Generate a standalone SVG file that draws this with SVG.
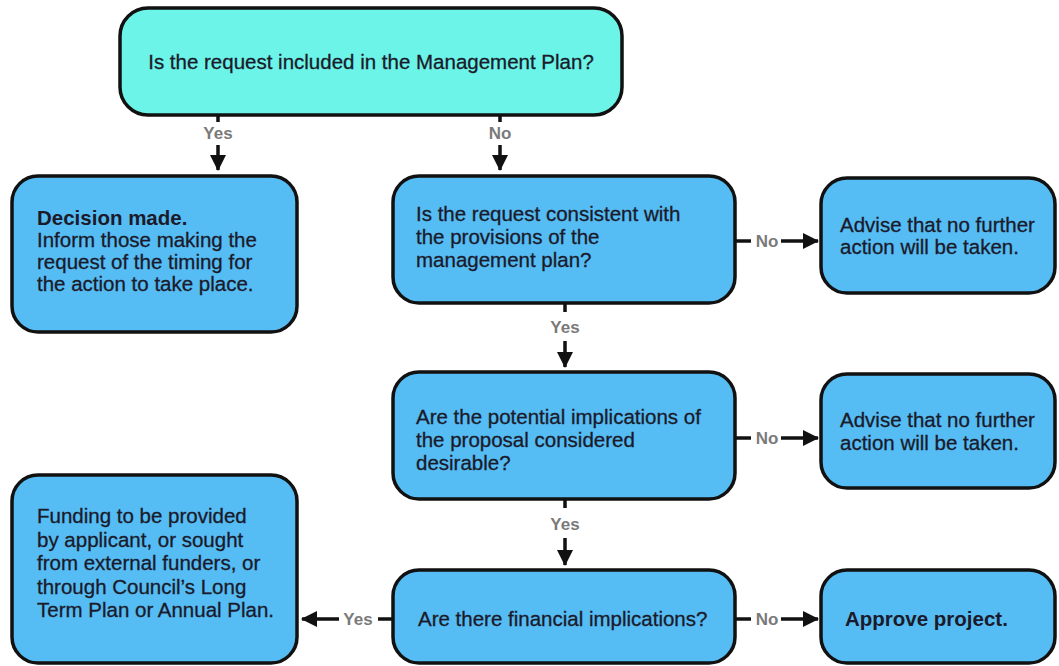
<svg xmlns="http://www.w3.org/2000/svg" width="1059" height="666" viewBox="0 0 1059 666">
<defs>
<marker id="ah" markerWidth="18" markerHeight="16" refX="15" refY="8" orient="auto" markerUnits="userSpaceOnUse">
<path d="M0,0 L16,8 L0,16 Z" fill="#111"/>
</marker>
<style>
.box{fill:#55bcf4;stroke:#111;stroke-width:3.5}
.top{fill:#6cf4e8;stroke:#111;stroke-width:3.5}
.t{font-family:"Liberation Sans",Arial,sans-serif;font-size:20.5px;fill:#1a1a2a;stroke:#1a1a2a;stroke-width:0.3}
.b{font-weight:bold;stroke-width:0}
.lbl{font-family:"Liberation Sans",Arial,sans-serif;font-size:17px;font-weight:bold;fill:#7a7a7a}
.ln{stroke:#111;stroke-width:3.5;fill:none}
.ar{stroke:#111;stroke-width:3.5;fill:none;marker-end:url(#ah)}
</style>
</defs>
<rect width="1059" height="666" fill="#ffffff"/>

<g id="q1">
<rect class="top" x="120" y="8" width="502" height="107" rx="28"/>
<text class="t" x="371" y="69" text-anchor="middle">Is the request included in the Management Plan?</text>
</g>

<g id="decision">
<rect class="box" x="12" y="176" width="285" height="156" rx="26"/>
<text class="t" x="37" y="225"><tspan class="b">Decision made.</tspan><tspan x="37" dy="22">Inform those making the</tspan><tspan x="37" dy="22">request of the timing for</tspan><tspan x="37" dy="22">the action to take place.</tspan></text>
</g>

<g id="q2">
<rect class="box" x="393" y="176" width="342" height="127" rx="26"/>
<text class="t" x="416" y="221">Is the request consistent with<tspan x="416" dy="23">the provisions of the</tspan><tspan x="416" dy="23">management plan?</tspan></text>
</g>

<g id="advise1">
<rect class="box" x="821" y="178" width="234" height="115" rx="26"/>
<text class="t" x="840" y="232">Advise that no further<tspan x="840" dy="22">action will be taken.</tspan></text>
</g>

<g id="q3">
<rect class="box" x="393" y="372" width="342" height="127" rx="26"/>
<text class="t" x="416" y="424">Are the potential implications of<tspan x="416" dy="23">the proposal considered</tspan><tspan x="416" dy="23">desirable?</tspan></text>
</g>

<g id="advise2">
<rect class="box" x="821" y="374" width="234" height="114" rx="26"/>
<text class="t" x="840" y="427">Advise that no further<tspan x="840" dy="23">action will be taken.</tspan></text>
</g>

<g id="q4">
<rect class="box" x="393" y="570" width="342" height="93" rx="26"/>
<text class="t" x="418" y="626">Are there financial implications?</text>
</g>

<g id="funding">
<rect class="box" x="12" y="475" width="285" height="188" rx="26"/>
<text class="t" x="37" y="523">Funding to be provided<tspan x="37" dy="23.6">by applicant, or sought</tspan><tspan x="37" dy="23.6">from external funders, or</tspan><tspan x="37" dy="23.6">through Council’s Long</tspan><tspan x="37" dy="23.6">Term Plan or Annual Plan.</tspan></text>
</g>

<g id="approve">
<rect class="box" x="821" y="570" width="234" height="93" rx="26"/>
<text class="t b" x="845" y="626">Approve project.</text>
</g>

<g id="connectors">
<line class="ln" x1="218" y1="115" x2="218" y2="122"/>
<text class="lbl" x="218" y="139" text-anchor="middle">Yes</text>
<line class="ar" x1="218" y1="145" x2="218" y2="170"/>

<line class="ln" x1="500" y1="115" x2="500" y2="122"/>
<text class="lbl" x="500" y="139" text-anchor="middle">No</text>
<line class="ar" x1="500" y1="145" x2="500" y2="170"/>

<line class="ln" x1="735" y1="241" x2="751" y2="241"/>
<text class="lbl" x="767" y="247" text-anchor="middle">No</text>
<line class="ar" x1="781" y1="241" x2="818" y2="241"/>

<line class="ln" x1="565" y1="303" x2="565" y2="312"/>
<text class="lbl" x="565" y="333" text-anchor="middle">Yes</text>
<line class="ar" x1="565" y1="341" x2="565" y2="367"/>

<line class="ln" x1="735" y1="438" x2="751" y2="438"/>
<text class="lbl" x="767" y="444" text-anchor="middle">No</text>
<line class="ar" x1="781" y1="438" x2="818" y2="438"/>

<line class="ln" x1="565" y1="499" x2="565" y2="508"/>
<text class="lbl" x="565" y="530" text-anchor="middle">Yes</text>
<line class="ar" x1="565" y1="538" x2="565" y2="565"/>

<line class="ln" x1="735" y1="619" x2="751" y2="619"/>
<text class="lbl" x="767" y="625" text-anchor="middle">No</text>
<line class="ar" x1="781" y1="619" x2="818" y2="619"/>

<line class="ln" x1="393" y1="619" x2="378" y2="619"/>
<text class="lbl" x="358" y="625" text-anchor="middle">Yes</text>
<line class="ar" x1="339" y1="619" x2="302" y2="619"/>
</g>
</svg>
